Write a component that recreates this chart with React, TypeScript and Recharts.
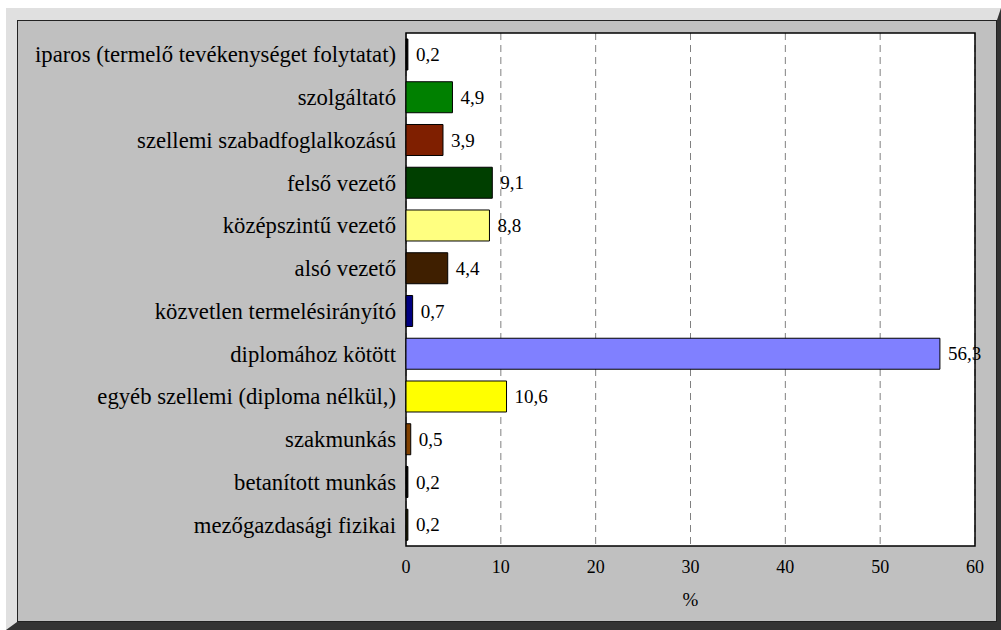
import React from 'react'
import { BarChart, Bar, XAxis, YAxis, CartesianGrid, Cell, LabelList, ReferenceArea } from 'recharts'

const categories = [
  'iparos (termelő tevékenységet folytatat)',
  'szolgáltató',
  'szellemi szabadfoglalkozású',
  'felső vezető',
  'középszintű vezető',
  'alsó vezető',
  'közvetlen termelésirányító',
  'diplomához kötött',
  'egyéb szellemi (diploma nélkül,)',
  'szakmunkás',
  'betanított munkás',
  'mezőgazdasági fizikai',
]

const values = [0.2, 4.9, 3.9, 9.1, 8.8, 4.4, 0.7, 56.3, 10.6, 0.5, 0.2, 0.2]

const colors = [
  '#000000', '#008000', '#7f1f00', '#003f00', '#ffff80', '#3f1f00',
  '#000080', '#8080ff', '#ffff00', '#804000', '#000000', '#1f1f00',
]

const xTicks = [0, 10, 20, 30, 40, 50, 60]

const data = categories.map((name, i) => ({ name, value: values[i] }))

const font = '"Liberation Serif", "Times New Roman", serif'

// value labels ignore fontSize props, so size them with css
const css = `
.chart .recharts-label { font-size: 19px !important; font-family: ${font} !important; fill: #000 !important; }
`

export default function App() {
  return (
    <div
      className="chart"
      style={{
        position: 'absolute',
        left: 6,
        top: 8,
        width: 980,
        height: 602,
        background: '#c0c0c0',
        borderTop: '12px solid #e0e0e0',
        borderLeft: '11px solid #e0e0e0',
        borderBottom: '8px solid #333333',
        borderRight: '4px solid #333333',
      }}
    >
      <style>{css}</style>
      <div style={{ position: 'absolute', inset: 0, border: '1px solid #222', boxSizing: 'border-box' }} />
      <BarChart
        layout="vertical"
        width={980}
        height={602}
        data={data}
        margin={{ top: 13, right: 22, bottom: 0, left: 0 }}
        barCategoryGap="14%"
        style={{ position: 'absolute', left: 0, top: 0 }}
      >
        <CartesianGrid horizontal={false} stroke="#808080" strokeDasharray="7 5" fill="#ffffff" />
        <ReferenceArea x1={0} x2={60} fill="none" stroke="#000" strokeWidth={1.5} ifOverflow="visible" />
        <XAxis
          type="number"
          domain={[0, 60]}
          ticks={xTicks}
          height={76}
          tickLine={false}
          tickSize={0}
          tickMargin={14}
          axisLine={false}
          tick={{ fontSize: 18, fill: '#000', fontFamily: font }}
          label={{ value: '%', position: 'insideBottom', offset: 16 }}
        />
        <YAxis
          type="category"
          dataKey="name"
          width={389}
          tickLine={false}
          tickSize={0}
          tickMargin={10}
          axisLine={false}
          interval={0}
          tick={{ fontSize: 22.7, fill: '#000', fontFamily: font }}
        />
        <Bar dataKey="value" stroke="#000" strokeWidth={1} isAnimationActive={false}>
          {data.map((d, i) => (
            <Cell key={d.name} fill={colors[i]} />
          ))}
          <LabelList
            dataKey="value"
            position="right"
            offset={8}
            formatter={(v: any) => String(v).replace('.', ',')}
          />
        </Bar>
      </BarChart>
    </div>
  )
}
